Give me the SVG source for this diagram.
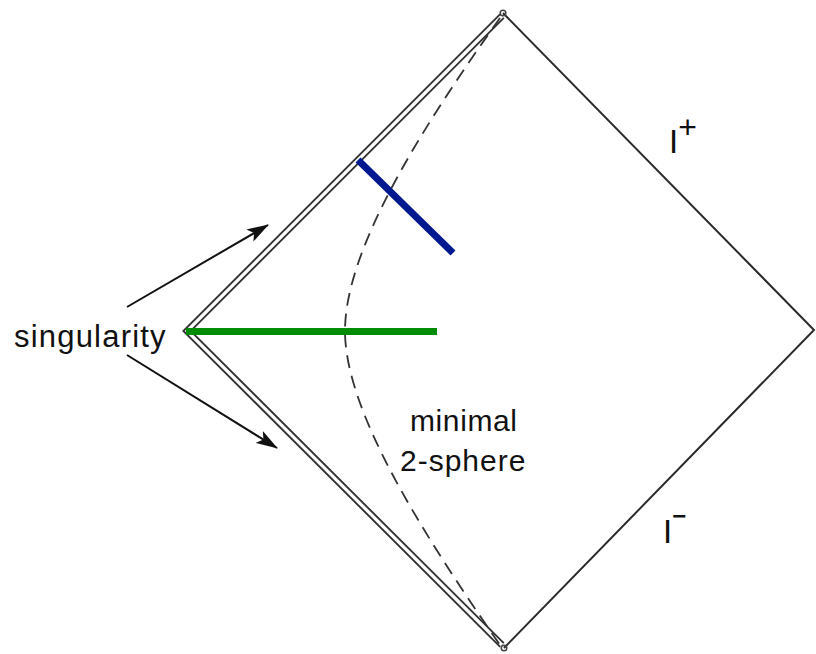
<svg xmlns="http://www.w3.org/2000/svg" width="816" height="654" viewBox="0 0 816 654">
<style>
.lbl{font-family:"Liberation Sans",Arial,sans-serif;fill:#111;}
.edge{fill:none;stroke:#2a2a2a;stroke-width:2;}
.dbl-out{fill:none;stroke:#333;stroke-width:7;stroke-linejoin:miter;}
.dbl-in{fill:none;stroke:#fff;stroke-width:3.2;stroke-linejoin:miter;}
.dash{fill:none;stroke:#333;stroke-width:1.8;stroke-dasharray:13 8;}
.arr{fill:none;stroke:#111;stroke-width:2;}
</style>
<defs>
<marker id="ah" viewBox="0 0 22 14" refX="21" refY="7" markerWidth="22" markerHeight="14" markerUnits="userSpaceOnUse" orient="auto">
<path d="M0,0 L22,7 L0,14 L5,7 Z" fill="#111"/>
</marker>
</defs>
<rect width="816" height="654" fill="#fff"/>
<g id="spacetime">
<path class="edge" d="M503,13 L814,330 L504,648"/>
<path class="dbl-out" d="M502,16 L187,331 L502,645"/>
<path class="dbl-in" d="M502,16 L187,331 L502,645"/>
<circle cx="503" cy="13" r="2.8" fill="none" stroke="#444" stroke-width="1.5"/>
<circle cx="504" cy="648" r="2.8" fill="none" stroke="#444" stroke-width="1.5"/>
</g>
<g id="minimal-sphere">
<path class="dash" d="M500,18 C420,130 345,250 345,331 C345,410 420,530 500,645"/>
</g>
<g id="slices">
<line x1="186" y1="331.5" x2="437" y2="331.5" stroke="#008c00" stroke-width="7"/>
<line x1="358" y1="160" x2="453" y2="253" stroke="#00188f" stroke-width="7"/>
</g>
<g id="connectors">
<line class="arr" x1="127" y1="307" x2="268" y2="225" marker-end="url(#ah)"/>
<line class="arr" x1="127" y1="355" x2="277" y2="448" marker-end="url(#ah)"/>
</g>
<g id="labels">
<text class="lbl" x="14" y="347" font-size="31" letter-spacing="1.2">singularity</text>
<text class="lbl" x="410" y="431" font-size="30" letter-spacing="0.6">minimal</text>
<text class="lbl" x="400" y="471" font-size="30" letter-spacing="1">2-sphere</text>
<text class="lbl" x="669" y="153" font-size="33">I<tspan font-size="32" dy="-15">+</tspan></text>
<text class="lbl" x="663" y="543" font-size="33">I<tspan font-size="24" font-weight="bold" dy="-19">−</tspan></text>
</g>
</svg>
